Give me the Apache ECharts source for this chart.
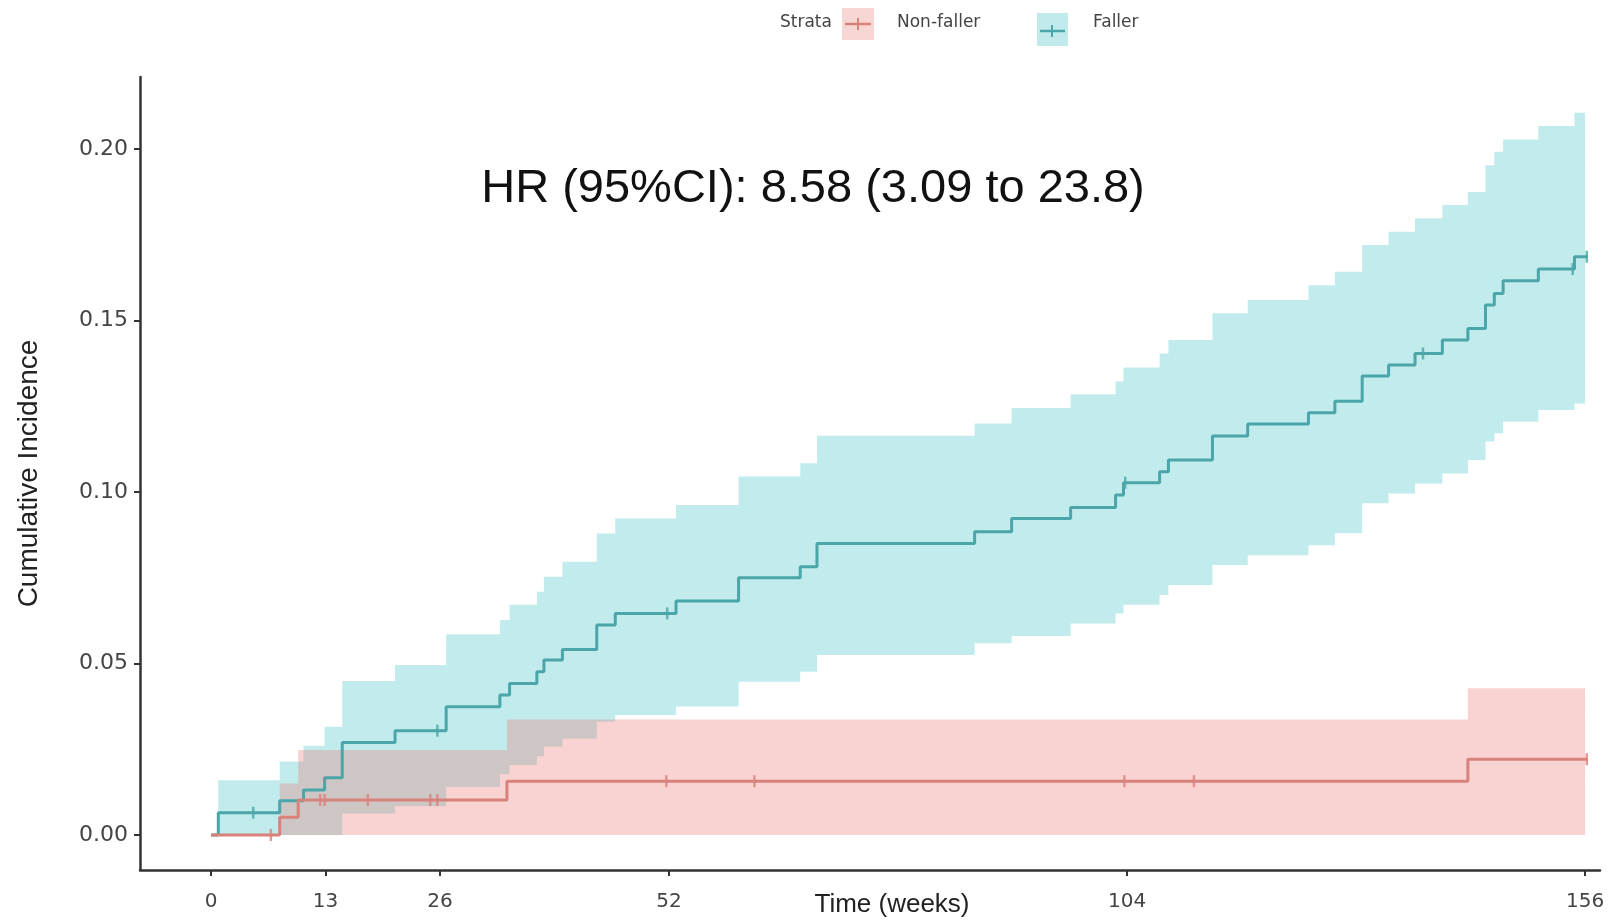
<!DOCTYPE html>
<html>
<head>
<meta charset="utf-8">
<script src="https://cdn.jsdelivr.net/npm/echarts@6/dist/echarts.min.js"></script>
<style>
  html, body { margin: 0; padding: 0; background: #fff; }
  #main { width: 1614px; height: 923px; }
</style>
</head>
<body>
<div id="main"></div>
<script>
// Faller: times (weeks) where the curve steps, estimate and 95% CI after each step
const fallerTime = [0, 0.83, 7.8, 10.5, 12.9, 14.9, 20.9, 26.7, 32.8, 33.9,
  37.0, 37.8, 39.9, 43.8, 45.9, 52.8, 59.9, 66.9, 68.8, 86.7,
  90.9, 97.6, 102.7, 103.6, 107.7, 108.7, 113.7, 117.7, 124.6, 127.6,
  130.7, 133.7, 136.7, 139.8, 142.7, 144.7, 145.7, 146.7, 150.7, 154.8];
const fallerEst = [0, 0.0065, 0.0100, 0.0131, 0.0167, 0.0270, 0.0304, 0.0374, 0.0408, 0.0442,
  0.0476, 0.0510, 0.0541, 0.0612, 0.0646, 0.0682, 0.0750, 0.0782, 0.0850, 0.0884,
  0.0923, 0.0955, 0.0991, 0.1027, 0.1059, 0.1093, 0.1163, 0.1198, 0.1231, 0.1265,
  0.1338, 0.1370, 0.1404, 0.1443, 0.1477, 0.1545, 0.1579, 0.1616, 0.1650, 0.1686];
const fallerLow = [0, 0, 0, 0, 0, 0.0063, 0.0084, 0.0140, 0.0177, 0.0204,
  0.0230, 0.0257, 0.0281, 0.0330, 0.0350, 0.0375, 0.0447, 0.0476, 0.0525, 0.0559,
  0.0580, 0.0617, 0.0646, 0.0671, 0.0700, 0.0729, 0.0787, 0.0816, 0.0845, 0.0880,
  0.0967, 0.0996, 0.1025, 0.1054, 0.1093, 0.1147, 0.1171, 0.1205, 0.1239, 0.1258];
const fallerUp = [0, 0.0160, 0.0214, 0.0260, 0.0316, 0.0449, 0.0496, 0.0585, 0.0627, 0.0671,
  0.0709, 0.0753, 0.0797, 0.0879, 0.0923, 0.0962, 0.1045, 0.1084, 0.1164, 0.1200,
  0.1245, 0.1285, 0.1322, 0.1363, 0.1404, 0.1443, 0.1521, 0.1560, 0.1603, 0.1642,
  0.1720, 0.1759, 0.1798, 0.1837, 0.1875, 0.1953, 0.1992, 0.2028, 0.2067, 0.2106];
const fallerCensor = [4.8, 25.7, 51.8, 103.8, 137.6, 154.6, 156.2];

// Non-faller
const nonFallerTime = [0, 7.8, 9.9, 33.6, 142.7];
const nonFallerEst = [0, 0.0052, 0.0102, 0.0157, 0.0221];
const nonFallerLow = [0, 0, 0, 0, 0];
const nonFallerUp = [0, 0.0150, 0.0248, 0.0337, 0.0428];
const nonFallerCensor = [6.8, 12.4, 12.9, 17.8, 24.9, 25.7, 51.7, 61.7, 103.7, 111.6, 156.2];

const xTicks = [0, 13, 26, 52, 104, 156];
const yTicks = [0, 0.05, 0.10, 0.15, 0.20];
const bandEnd = 156;
const lineEnd = 156.3;

const tealLine = '#4aa6a8', tealFill = '#3fc1c4';
const redLine = '#d9827b', redFill = '#e8756f';

function steps(times, vals, end) {
  const d = times.map((t, i) => [t, vals[i]]);
  d.push([end, vals[vals.length - 1]]);
  return d;
}
function bandRows(times, lo, up, end) {
  const d = times.map((t, i) => [t, lo[i], up[i]]);
  d.push([end, lo[lo.length - 1], up[up.length - 1]]);
  return d;
}
function valueAt(times, vals, t) {
  let v = vals[0];
  for (let i = 0; i < times.length; i++) {
    if (times[i] <= t) v = vals[i];
  }
  return v;
}

// the whole CI band is one stepped polygon, drawn once from all rows
function band(rows, color) {
  return {
    type: 'custom', silent: true,
    encode: { x: 0, y: [1, 2] },
    data: rows,
    renderItem: function (params, api) {
      if (params.dataIndexInside !== 0) return null;
      const n = params.dataInsideLength;
      const top = [], bot = [];
      for (let i = 0; i < n; i++) {
        const t = api.value(0, i);
        const lo = api.value(1, i), up = api.value(2, i);
        if (i > 0) {
          top.push(api.coord([t, api.value(2, i - 1)]));
          bot.push(api.coord([t, api.value(1, i - 1)]));
        }
        if (i < n - 1) {
          top.push(api.coord([t, up]));
          bot.push(api.coord([t, lo]));
        }
      }
      return {
        type: 'polygon',
        shape: { points: top.concat(bot.reverse()) },
        style: { fill: color, opacity: 0.32 }
      };
    }
  };
}

const myChart = echarts.init(document.getElementById('main'));
myChart.setOption({
  animation: false,
  grid: { left: 140, right: 14, top: 77, bottom: 53, outerBoundsMode: 'none', containLabel: false },
  xAxis: {
    type: 'value', min: -8.06, max: 157.7,
    name: 'Time (weeks)', nameLocation: 'middle', nameGap: 22, nameMoveOverlap: false,
    nameTextStyle: { fontSize: 26, color: '#222', fontFamily: 'Liberation Sans', padding: [0, 0, 0, 44] },
    axisLine: { onZero: false, lineStyle: { color: '#333', width: 2.5 } },
    axisTick: { customValues: xTicks, length: 6, lineStyle: { color: '#333', width: 2 } },
    axisLabel: { customValues: xTicks, margin: 22, fontSize: 20, color: '#444', fontFamily: 'DejaVu Sans' },
    splitLine: { show: false }
  },
  yAxis: {
    type: 'value', min: -0.0102, max: 0.221,
    name: 'Cumulative Incidence', nameLocation: 'middle', nameGap: 97, nameRotate: 90, nameMoveOverlap: false,
    nameTextStyle: { fontSize: 28, color: '#222', fontFamily: 'Liberation Sans' },
    axisLine: { show: true, onZero: false, lineStyle: { color: '#333', width: 2.5 } },
    axisTick: { show: true, customValues: yTicks, length: 6, lineStyle: { color: '#333', width: 2 } },
    axisLabel: {
      customValues: yTicks, margin: 12, fontSize: 22, color: '#444', fontFamily: 'DejaVu Sans',
      formatter: v => v.toFixed(2)
    },
    splitLine: { show: false }
  },
  graphic: [
    { type: 'text', left: 780, top: 14, style: { text: 'Strata', fontSize: 17, fill: '#444', fontFamily: 'DejaVu Sans' } },
    { type: 'rect', shape: { x: 842, y: 8, width: 32, height: 32 }, style: { fill: '#f8d6d4' } },
    { type: 'line', shape: { x1: 845, y1: 24, x2: 871, y2: 24 }, style: { stroke: redLine, lineWidth: 2.5 } },
    { type: 'line', shape: { x1: 858, y1: 18, x2: 858, y2: 30 }, style: { stroke: redLine, lineWidth: 2 } },
    { type: 'text', left: 897, top: 14, style: { text: 'Non-faller', fontSize: 17, fill: '#444', fontFamily: 'DejaVu Sans' } },
    { type: 'rect', shape: { x: 1037, y: 13, width: 31, height: 33 }, style: { fill: '#c0eaeb' } },
    { type: 'line', shape: { x1: 1040, y1: 31, x2: 1065, y2: 31 }, style: { stroke: tealLine, lineWidth: 2.5 } },
    { type: 'line', shape: { x1: 1052, y1: 25, x2: 1052, y2: 37 }, style: { stroke: tealLine, lineWidth: 2 } },
    { type: 'text', left: 1093, top: 14, style: { text: 'Faller', fontSize: 17, fill: '#444', fontFamily: 'DejaVu Sans' } },
    {
      type: 'text', x: 813, y: 189, z: 100,
      style: { text: 'HR (95%CI): 8.58 (3.09 to 23.8)', fontSize: 47, fill: '#111', fontFamily: 'Liberation Sans', align: 'center', verticalAlign: 'middle' }
    }
  ],
  series: [
    band(bandRows(fallerTime, fallerLow, fallerUp, bandEnd), tealFill),
    band(bandRows(nonFallerTime, nonFallerLow, nonFallerUp, bandEnd), redFill),
    {
      type: 'line', name: 'Faller', step: 'end', showSymbol: false,
      lineStyle: { color: tealLine, width: 3 },
      data: steps(fallerTime, fallerEst, lineEnd)
    },
    {
      type: 'line', name: 'Non-faller', step: 'end', showSymbol: false,
      lineStyle: { color: redLine, width: 3 },
      data: steps(nonFallerTime, nonFallerEst, lineEnd)
    },
    {
      type: 'scatter', symbol: 'rect', symbolSize: [2.5, 12],
      itemStyle: { color: tealLine },
      data: fallerCensor.map(t => [t, valueAt(fallerTime, fallerEst, t)])
    },
    {
      type: 'scatter', symbol: 'rect', symbolSize: [2.5, 12],
      itemStyle: { color: redLine },
      data: nonFallerCensor.map(t => [t, valueAt(nonFallerTime, nonFallerEst, t)])
    }
  ]
});
</script>
</body>
</html>
